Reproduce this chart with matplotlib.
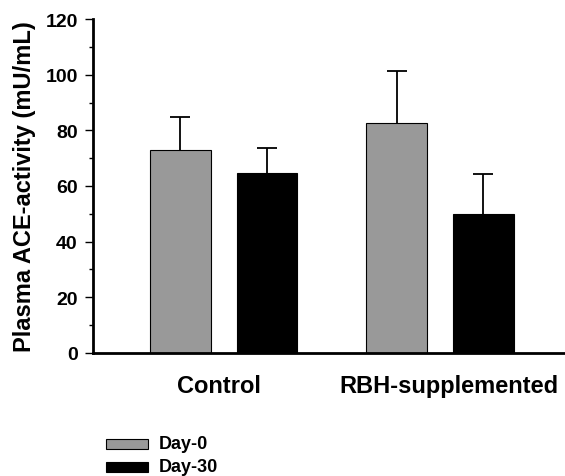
import matplotlib
matplotlib.use('Agg')
import matplotlib.pyplot as plt
import matplotlib.transforms as mtransforms
import numpy as np
from matplotlib.patches import Rectangle

plt.rcParams['font.family'] = ['Liberation Sans', 'DejaVu Sans']

groups = ['Control', 'RBH-supplemented']
series = ['Day-0', 'Day-30']
day0_mean = [72.9, 82.6]
day0_err = [11.9, 18.7]
day30_mean = [64.7, 50.0]
day30_err = [8.9, 14.3]

colors = {'Day-0': '#999999', 'Day-30': '#000000'}

fig = plt.figure(figsize=(5.65, 4.77), dpi=100)
ax = fig.add_axes([0.1646, 0.258, 0.8354, 0.700])

x = np.arange(len(groups))
w = 0.28
off = 0.2
for xs, m, e, name in [(x - off, day0_mean, day0_err, 'Day-0'),
                       (x + off, day30_mean, day30_err, 'Day-30')]:
    ax.bar(xs, m, w, color=colors[name], edgecolor='black', linewidth=0.8,
           label=name, zorder=2)
    # upper error only
    tops = np.array(m) + np.array(e)
    ax.vlines(xs, m, tops, color='black', linewidth=1.3, zorder=1)
    ax.plot(xs, tops, linestyle='none', marker='_', markersize=14,
            markeredgewidth=1.3, color='black', zorder=1)

ax.set_xlim(-0.603, 1.577)
ax.set_ylim(0, 120)
ax.set_yticks(np.arange(0, 121, 20))
ax.set_yticks(np.arange(0, 121, 10), minor=True)
ax.set_xticks(x)
ax.set_xticklabels(groups, fontsize=17, fontweight='bold')
ax.tick_params(axis='x', length=0, pad=15)
ax.tick_params(axis='y', which='major', length=6, width=1.0, labelsize=14,
               direction='out', pad=5)
ax.tick_params(axis='y', which='minor', length=3, width=1.0, direction='out')
for lab in ax.get_yticklabels():
    lab.set_fontweight('bold')
# labels sit slightly off the group centres in the original
for lab, dx in zip(ax.get_xticklabels(), [-5, 9]):
    lab.set_transform(lab.get_transform() + mtransforms.ScaledTranslation(dx / 100, 0, fig.dpi_scale_trans))
ax.set_ylabel('Plasma ACE-activity (mU/mL)', fontsize=17, fontweight='bold', labelpad=7)

for s in ['top', 'right']:
    ax.spines[s].set_visible(False)
for s in ['left', 'bottom']:
    ax.spines[s].set_linewidth(2)

# legend drawn at bottom-left
for i, name in enumerate(series):
    ytop = 440 + i * 23
    y = 1 - (ytop + 10) / 477
    fig.patches.append(Rectangle((106 / 565, y), 42 / 565, 10 / 477, transform=fig.transFigure,
                                 facecolor=colors[name], edgecolor='black', linewidth=0.8))
    fig.text(159 / 565, y + 5 / 477, name, fontsize=13, fontweight='bold', va='center')

fig.savefig('out.png', dpi=100, facecolor='white')
